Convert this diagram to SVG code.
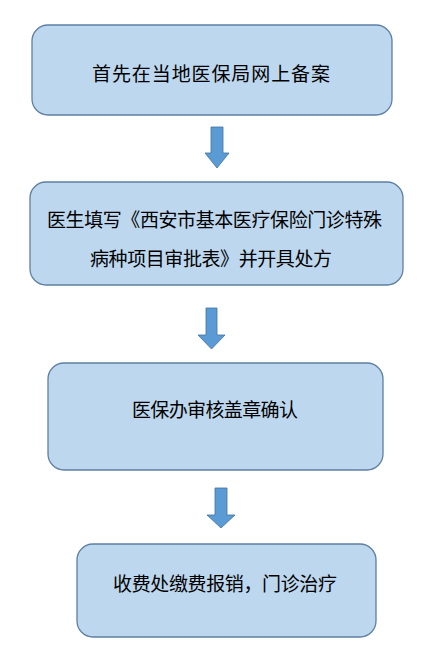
<svg xmlns="http://www.w3.org/2000/svg" width="424" height="662" viewBox="0 0 424 662">
<style>
.box{fill:#BDD7EE;stroke:#5E7FA3;stroke-width:1.3}
.t{font-family:"Noto Sans CJK SC","Noto Sans CJK TC",sans-serif;font-size:19px;fill:#000;dominant-baseline:central}
.arr{fill:#5B9BD5;stroke:#41719C;stroke-width:0.8}
</style>
<rect width="424" height="662" fill="#fff"/>
<g id="n1">
<rect class="box" x="32" y="25" width="360" height="90" rx="16"/>
<text class="t" x="92" y="72" textLength="238" lengthAdjust="spacing">首先在当地医保局网上备案</text>
</g>
<g id="n2">
<rect class="box" x="30" y="182" width="373" height="103" rx="16"/>
<text class="t" x="47" y="218" textLength="335" lengthAdjust="spacing">医生填写《西安市基本医疗保险门诊特殊</text>
<text class="t" x="90" y="257" textLength="242" lengthAdjust="spacing">病种项目审批表》并开具处方</text>
</g>
<g id="n3">
<rect class="box" x="48" y="363" width="335" height="107" rx="16"/>
<text class="t" x="132" y="408" textLength="166" lengthAdjust="spacing">医保办审核盖章确认</text>
</g>
<g id="n4">
<rect class="box" x="77" y="544" width="299" height="93" rx="16"/>
<text class="t" x="113" y="582" textLength="224" lengthAdjust="spacing">收费处缴费报销，门诊治疗</text>
</g>
<g id="connectors">
<path class="arr" d="M211 127 H223 V153 H229 L217 168 L205 153 H211 Z"/>
<path class="arr" d="M206 308 H217 V335 H225 L211.5 349 L198 335 H206 Z"/>
<path class="arr" d="M215 488 H227 V515 H235 L221 528 L207 515 H215 Z"/>
</g>
</svg>
